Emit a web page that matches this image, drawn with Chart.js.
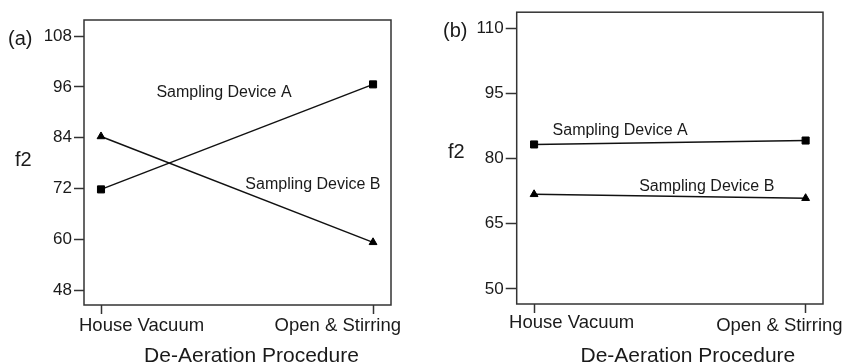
<!DOCTYPE html>
<html lang="en">
  <head>
    <meta charset="UTF-8" />
    <title>f2 vs De-Aeration Procedure</title>
    <script src="https://cdn.jsdelivr.net/npm/chart.js"></script>
    <style>
      * {
        margin: 0;
        padding: 0;
        box-sizing: border-box;
      }
      body {
        width: 846px;
        height: 364px;
        background: #fff;
        position: relative;
        overflow: hidden;
      }
      #panelA {
        position: absolute;
        left: 0;
        top: 0;
      }
      #panelB {
        position: absolute;
        left: 420px;
        top: 0;
      }
    </style>
  </head>
  <body>
    <canvas id="panelA" width="420" height="364"></canvas>
    <canvas id="panelB" width="426" height="364"></canvas>

    <script>
      // Data
      const categories = ["House Vacuum", "Open & Stirring"];
      const seriesNames = ["Sampling Device A", "Sampling Device B"];

      // panel (a)
      const deviceA_a = [71.8, 96.6];
      const deviceB_a = [84.3, 59.3];
      const yTicks_a = [48, 60, 72, 84, 96, 108];

      // panel (b)
      const deviceA_b = [83.3, 84.2];
      const deviceB_b = [71.8, 70.9];
      const yTicks_b = [50, 65, 80, 95, 110];

      const FONT = "'Liberation Sans', Arial, sans-serif";
      const INK = "#1a1a1a";
      Chart.defaults.font.family = FONT;

      // frame + all the loose text (panel tag, f2, labels, axis title)
      const panelText = {
        id: "panelText",
        afterDraw(chart, args, opts) {
          const ctx = chart.ctx;
          const area = chart.chartArea;
          const xs = chart.scales.x;
          const ys = chart.scales.y;
          ctx.save();

          ctx.strokeStyle = "#333";
          ctx.lineWidth = 1.5;
          ctx.strokeRect(area.left, area.top, area.right - area.left, area.bottom - area.top);

          ctx.fillStyle = INK;
          ctx.textBaseline = "alphabetic";

          // series labels, placed in data coords
          ctx.font = "16px " + FONT;
          ctx.textAlign = "center";
          opts.seriesLabels.forEach((l, i) => {
            ctx.fillText(seriesNames[i], xs.getPixelForValue(l.x), ys.getPixelForValue(l.y));
          });

          // category labels under the x ticks
          ctx.font = "18.5px " + FONT;
          categories.forEach((c, i) => {
            ctx.textAlign = i === 0 ? "left" : "right";
            ctx.fillText(c, xs.getPixelForValue(i) + opts.catShift[i], area.bottom + opts.catDy[i]);
          });

          // x axis title
          ctx.font = "21px " + FONT;
          ctx.textAlign = "center";
          ctx.fillText("De-Aeration Procedure", (area.left + area.right) / 2 + opts.titleShift, opts.titleY);

          // panel tag and y title
          ctx.font = "20px " + FONT;
          ctx.textAlign = "left";
          ctx.fillText(opts.tag, opts.tagX, opts.tagY);
          ctx.fillText("f2", opts.f2X, opts.f2Y);

          ctx.restore();
        },
      };

      function makePanel(id, aVals, bVals, yTicks, cfg) {
        const toPoints = (vals) => vals.map((v, i) => ({ x: i, y: v }));
        const lineStyle = {
          borderColor: "#111",
          borderWidth: 1.5,
          pointBackgroundColor: "#000",
          pointBorderColor: "#000",
          pointBorderWidth: 1,
          tension: 0,
        };

        return new Chart(document.getElementById(id), {
          type: "line",
          data: {
            datasets: [
              { label: seriesNames[0], data: toPoints(aVals), pointStyle: "rect", pointRadius: 5, ...lineStyle },
              { label: seriesNames[1], data: toPoints(bVals), pointStyle: "triangle", pointRadius: 4.5, ...lineStyle },
            ],
          },
          options: {
            responsive: false,
            animation: false,
            layout: { padding: { left: 0, top: cfg.top, right: cfg.right, bottom: 0 } },
            plugins: {
              legend: { display: false },
              tooltip: { enabled: false },
              panelText: cfg.text,
            },
            scales: {
              x: {
                type: "linear",
                min: cfg.xMin,
                max: cfg.xMax,
                afterBuildTicks: (s) => {
                  s.ticks = categories.map((c, i) => ({ value: i }));
                },
                afterFit: (s) => {
                  s.height = cfg.xAxisHeight;
                },
                ticks: { display: false },
                grid: { drawOnChartArea: false, drawTicks: true, tickLength: 9, tickColor: "#333", tickWidth: 1.5 },
                border: { display: false },
              },
              y: {
                min: cfg.yMin,
                max: cfg.yMax,
                afterBuildTicks: (s) => {
                  s.ticks = yTicks.map((v) => ({ value: v }));
                },
                afterFit: (s) => {
                  s.width = cfg.yAxisWidth;
                },
                ticks: { padding: 2, color: INK, font: { size: 17 } },
                grid: { drawOnChartArea: false, drawTicks: true, tickLength: cfg.yTickLen, tickColor: "#333", tickWidth: 1.5 },
                border: { display: false },
              },
            },
          },
          plugins: [panelText],
        });
      }

      makePanel("panelA", deviceA_a, deviceB_a, yTicks_a, {
        top: 20,
        right: 29,
        yAxisWidth: 84,
        xAxisHeight: 59,
        yTickLen: 10,
        xMin: -0.0625,
        xMax: 1.066,
        yMin: 44.5,
        yMax: 111.8,
        text: {
          seriesLabels: [
            { x: 0.452, y: 93.5 },
            { x: 0.779, y: 71.9 },
          ],
          catShift: [-22, 28],
          catDy: [26, 26],
          titleShift: 14,
          titleY: 362,
          tag: "(a)",
          tagX: 8,
          tagY: 45,
          f2X: 15,
          f2Y: 166,
        },
      });

      makePanel("panelB", deviceA_b, deviceB_b, yTicks_b, {
        top: 9,
        right: 23,
        yAxisWidth: 96.7,
        xAxisHeight: 60,
        yTickLen: 11,
        xMin: -0.064,
        xMax: 1.064,
        yMin: 46.5,
        yMax: 113.8,
        text: {
          seriesLabels: [
            { x: 0.317, y: 85.5 },
            { x: 0.636, y: 72.5 },
          ],
          catShift: [-25, 37],
          catDy: [24, 27],
          titleShift: 18,
          titleY: 362,
          tag: "(b)",
          tagX: 23,
          tagY: 37,
          f2X: 28,
          f2Y: 158,
        },
      });
    </script>
  </body>
</html>
